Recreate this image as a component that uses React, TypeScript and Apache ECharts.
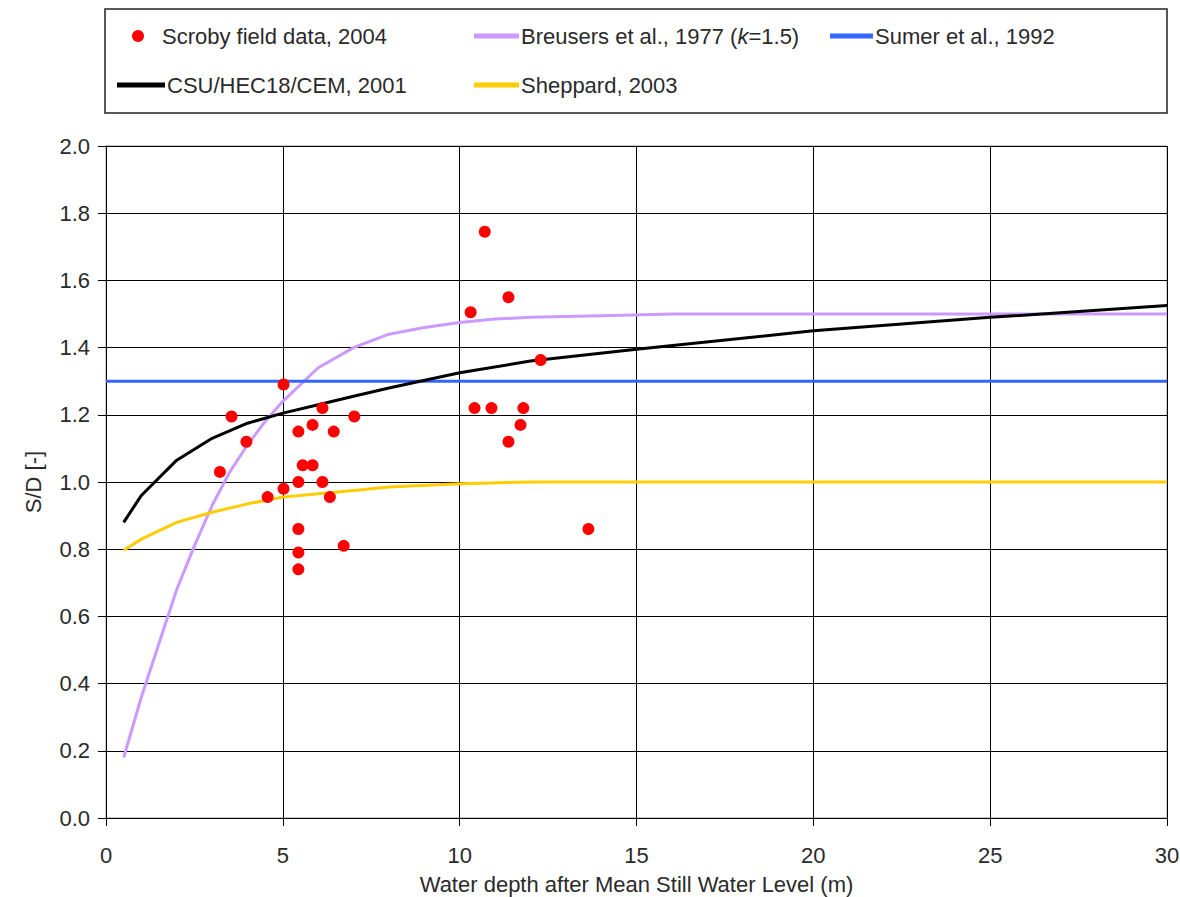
import React, { useEffect, useRef } from "react";
import * as echarts from "echarts";

const scrobyData: [number, number][] = [
  [3.22, 1.03], [3.55, 1.195], [3.97, 1.12], [4.57, 0.955], [5.02, 0.98], [5.02, 1.29],
  [5.44, 1.15], [5.44, 1.0], [5.44, 0.86], [5.44, 0.79], [5.44, 0.74], [5.56, 1.05],
  [5.84, 1.05], [5.84, 1.17], [6.12, 1.22], [6.12, 1.0], [6.33, 0.955], [6.44, 1.15],
  [6.72, 0.81], [7.02, 1.195], [10.31, 1.505], [10.42, 1.22], [10.71, 1.745], [10.9, 1.22],
  [11.38, 1.55], [11.38, 1.12], [11.72, 1.17], [11.8, 1.22], [12.29, 1.363], [13.64, 0.86],
];

const breusersX = [0.5, 1, 1.5, 2, 2.5, 3, 3.5, 4, 4.5, 5, 6, 7, 8, 9, 10, 11, 12, 14, 16, 18, 20, 25, 30];
const breusersY = [0.18, 0.36, 0.52, 0.68, 0.81, 0.93, 1.03, 1.11, 1.18, 1.24, 1.34, 1.4, 1.44, 1.46, 1.475, 1.485, 1.49, 1.495, 1.5, 1.5, 1.5, 1.5, 1.5];

const csuX = [0.5, 1, 2, 3, 4, 5, 6, 7, 8, 10, 12, 15, 20, 25, 30];
const csuY = [0.88, 0.96, 1.065, 1.13, 1.175, 1.205, 1.23, 1.255, 1.28, 1.325, 1.36, 1.395, 1.45, 1.49, 1.525];

const sheppardX = [0.5, 1, 2, 3, 4, 5, 6, 7, 8, 10, 12, 15, 20, 30];
const sheppardY = [0.797, 0.83, 0.88, 0.91, 0.935, 0.955, 0.965, 0.975, 0.985, 0.995, 1.0, 1.0, 1.0, 1.0];

const sumerX = [0, 30];
const sumerY = [1.3, 1.3];

const zip = (xs: number[], ys: number[]) => xs.map((x, i) => [x, ys[i]]);

const FONT = "'Liberation Sans', Arial, sans-serif";
const FS = 22;
const TXT = "#2a2a2a";

export default function App() {
  const ref = useRef<HTMLDivElement>(null);
  useEffect(() => {
    if (!ref.current) return;
    const chart = echarts.init(ref.current, null, { renderer: "svg" });
    const legendText = { fontFamily: FONT, fontSize: FS, color: TXT };
    const lineLegend = (name: string, left: number, top: number, w: number) => ({
      data: [name],
      left,
      top,
      orient: "horizontal",
      icon: "rect",
      itemWidth: w,
      itemHeight: 5,
      itemGap: 0,
      padding: 0,
      textStyle: { ...legendText, padding: [0, 0, 0, -3] },
      selectedMode: false,
    });
    chart.setOption({
      animation: false,
      backgroundColor: "#fff",
      textStyle: { fontFamily: FONT },
      graphic: [
        {
          type: "rect",
          shape: { x: 105, y: 9, width: 1062, height: 104 },
          style: { fill: "none", stroke: "#222", lineWidth: 1.5 },
          z: -1,
        },
      ],
      legend: [
        {
          data: ["Scroby field data, 2004"],
          left: 132,
          top: 25,
          icon: "circle",
          itemWidth: 12,
          itemHeight: 12,
          itemGap: 0,
          padding: 0,
          textStyle: { ...legendText, padding: [0, 0, 0, 13] },
          selectedMode: false,
        },
        {
          ...lineLegend("Breusers et al., 1977 (k=1.5)", 474, 25, 45),
          formatter: () => "Breusers et al., 1977 ({i|k}=1.5)",
          textStyle: {
            ...legendText,
            padding: [0, 0, 0, -3],
            rich: { i: { fontFamily: FONT, fontSize: FS, fontStyle: "italic", color: TXT } },
          },
        },
        lineLegend("Sumer et al., 1992", 830, 25, 43),
        lineLegend("CSU/HEC18/CEM, 2001", 117, 74, 48),
        lineLegend("Sheppard, 2003", 474, 74, 45),
      ],
      grid: {
        left: 106,
        right: 13,
        top: 146,
        bottom: 79,
        show: true,
        borderColor: "#999",
        borderWidth: 1,
        outerBoundsMode: "none",
        containLabel: false,
      },
      xAxis: {
        type: "value",
        min: 0,
        max: 30,
        interval: 5,
        name: "Water depth after Mean Still Water Level (m)",
        nameLocation: "middle",
        nameGap: 55,
        nameTextStyle: { fontFamily: FONT, fontSize: FS, color: TXT },
        axisLine: { show: true, onZero: false, lineStyle: { color: "#000", width: 1 } },
        axisTick: { show: true, length: 8, lineStyle: { color: "#000" } },
        axisLabel: { fontFamily: FONT, fontSize: FS, color: TXT, margin: 26 },
        splitLine: { show: true, lineStyle: { color: "#000", width: 1 } },
      },
      yAxis: {
        type: "value",
        min: 0,
        max: 2,
        interval: 0.2,
        name: "S/D [-]",
        nameLocation: "middle",
        nameGap: 62,
        nameRotate: 90,
        nameTextStyle: { fontFamily: FONT, fontSize: FS, color: TXT },
        axisLine: { show: true, lineStyle: { color: "#000", width: 1 } },
        axisTick: { show: true, length: 8, lineStyle: { color: "#000" } },
        axisLabel: { fontFamily: FONT, fontSize: FS, color: TXT, margin: 16, formatter: (v: number) => v.toFixed(1) },
        splitLine: { show: true, lineStyle: { color: "#000", width: 1 } },
      },
      series: [
        {
          name: "Breusers et al., 1977 (k=1.5)",
          type: "line",
          data: zip(breusersX, breusersY),
          showSymbol: false,
          lineStyle: { color: "#cc99ff", width: 3 },
          itemStyle: { color: "#cc99ff" },
          z: 2,
        },
        {
          name: "Sumer et al., 1992",
          type: "line",
          data: zip(sumerX, sumerY),
          showSymbol: false,
          lineStyle: { color: "#3366ff", width: 3 },
          itemStyle: { color: "#3366ff" },
          z: 2,
        },
        {
          name: "CSU/HEC18/CEM, 2001",
          type: "line",
          data: zip(csuX, csuY),
          showSymbol: false,
          lineStyle: { color: "#000000", width: 3 },
          itemStyle: { color: "#000000" },
          z: 2,
        },
        {
          name: "Sheppard, 2003",
          type: "line",
          data: zip(sheppardX, sheppardY),
          showSymbol: false,
          lineStyle: { color: "#ffcc00", width: 3 },
          itemStyle: { color: "#ffcc00" },
          z: 2,
        },
        {
          name: "Scroby field data, 2004",
          type: "scatter",
          data: scrobyData,
          symbol: "circle",
          symbolSize: 12,
          itemStyle: { color: "#ff0000", opacity: 1 },
          z: 3,
        },
      ],
    });
    return () => chart.dispose();
  }, []);
  return <div ref={ref} style={{ width: 1180, height: 897, position: "absolute", left: 0, top: 0, overflow: "hidden" }} />;
}
